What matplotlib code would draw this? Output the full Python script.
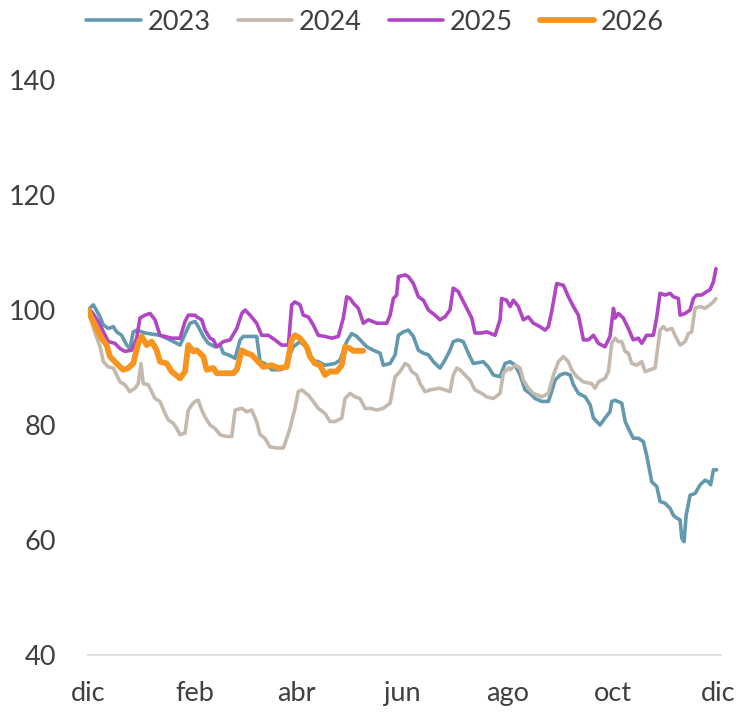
import matplotlib
matplotlib.use("Agg")
import matplotlib.pyplot as plt

plt.rcParams['font.family'] = ['Lato', 'DejaVu Sans']

# x = days since 1 December, y = index (start = 100)
s2023 = [(0, 100.0), (3.1, 100.9), (7.0, 98.8), (8.9, 97.4), (11.8, 96.8), (14.7, 97.1), (16.6, 96.2),
         (19.5, 95.6), (22.4, 93.9), (24.3, 93.3), (26.2, 96.2), (28.2, 96.5), (33.0, 96.0), (41.7, 95.6),
         (47.5, 94.8), (53.3, 93.9), (59.1, 97.7), (62.0, 98.0), (63.9, 97.1), (66.8, 95.4), (69.7, 94.2),
         (73.6, 93.6), (76.5, 93.9), (78.4, 92.5), (81.3, 92.2), (85.2, 91.6), (88.1, 94.8), (90.0, 95.4),
         (97.7, 95.4), (99.7, 91.0), (102.5, 90.7), (106.4, 89.6), (111.2, 89.6), (114.1, 89.9), (116.0, 91.6),
         (118.9, 93.6), (122.8, 94.5), (123.8, 94.2), (127.6, 93.3), (129.6, 91.3), (133.4, 91.0), (137.3, 90.4),
         (143.1, 90.7), (146.0, 91.3), (149.9, 94.5), (152.7, 95.9), (155.7, 95.4), (158.6, 94.5), (161.5, 93.6),
         (165.3, 93.0), (169.2, 92.5), (171.1, 90.4), (175.0, 90.7), (177.9, 92.2), (179.8, 95.6), (182.7, 96.2),
         (185.6, 96.5), (188.5, 95.4), (191.4, 93.0), (194.3, 92.5), (197.2, 92.2), (200.1, 91.0), (203.9, 89.9),
         (206.8, 91.3), (209.7, 93.0), (211.6, 94.5), (214.5, 94.8), (217.4, 94.5), (220.3, 92.5), (223.2, 90.7),
         (229.0, 91.0), (231.9, 90.1), (234.8, 88.7), (238.7, 88.4), (241.6, 90.7), (244.5, 91.0), (247.4, 90.4),
         (250.3, 88.7), (253.2, 86.1), (256.1, 85.5), (259.0, 84.6), (262.9, 84.1), (266.7, 84.1), (268.6, 85.8),
         (270.6, 87.8), (273.5, 88.7), (276.4, 89.0), (279.3, 88.7), (281.2, 87.0), (284.1, 85.5), (288.0, 84.9),
         (290.9, 83.5), (292.8, 81.2), (296.6, 80.0), (299.5, 81.2), (302.4, 82.3), (303.4, 84.1), (305.3, 84.3),
         (309.2, 83.8), (311.2, 80.6), (314.0, 78.8), (315.9, 77.7), (318.8, 77.7), (321.7, 77.1), (323.6, 74.8),
         (326.6, 70.1), (329.5, 69.3), (331.4, 66.7), (334.3, 66.4), (337.2, 65.5), (339.1, 64.3), (341.1, 63.8),
         (343.0, 63.5), (344.0, 60.3), (345.3, 59.7), (346.5, 64.3), (348.8, 67.8), (351.7, 68.1), (354.6, 69.6),
         (357.5, 70.4), (359.4, 70.1), (360.7, 69.6), (362.3, 72.2), (364.2, 72.2)]

s2024 = [(0, 100.0), (3.5, 96.5), (7.0, 93.6), (8.9, 91.0), (11.8, 90.1), (14.7, 89.9), (16.6, 88.7),
         (18.5, 87.5), (21.4, 87.0), (24.3, 85.8), (27.2, 86.4), (29.1, 87.2), (30.7, 90.7), (32.0, 87.2),
         (34.9, 87.0), (36.9, 85.8), (38.8, 84.6), (41.7, 84.1), (44.6, 82.0), (46.5, 80.9), (49.4, 80.3),
         (51.4, 79.4), (53.3, 78.3), (56.2, 78.6), (58.1, 82.6), (60.1, 83.5), (62.0, 84.1), (63.9, 84.3),
         (65.9, 82.6), (67.8, 81.4), (70.7, 80.0), (73.6, 79.4), (76.5, 78.3), (80.4, 78.0), (83.3, 78.0),
         (85.2, 82.6), (89.1, 82.9), (91.9, 82.3), (94.8, 82.6), (97.7, 80.6), (99.7, 78.3), (102.5, 77.7),
         (105.4, 76.2), (109.3, 76.0), (113.2, 76.0), (115.1, 77.7), (117.0, 79.4), (119.9, 82.9), (121.8, 85.8),
         (123.8, 86.1), (127.6, 85.2), (130.5, 84.1), (133.4, 82.9), (137.3, 82.0), (140.2, 80.6), (143.1, 80.6),
         (147.0, 81.2), (148.9, 84.6), (151.8, 85.5), (154.7, 84.9), (157.6, 84.6), (160.5, 82.9), (163.4, 82.9),
         (167.3, 82.6), (171.1, 82.9), (175.0, 83.8), (177.9, 88.4), (180.8, 89.3), (183.7, 90.7), (185.6, 90.4),
         (187.5, 89.3), (190.4, 88.7), (192.4, 87.2), (195.2, 85.8), (198.1, 86.1), (203.9, 86.4), (209.7, 85.8),
         (211.6, 88.7), (213.6, 89.9), (215.5, 89.6), (218.4, 88.7), (221.3, 87.8), (224.2, 86.1), (228.1, 85.5),
         (231.0, 84.9), (234.8, 84.6), (238.7, 85.5), (240.6, 89.0), (243.5, 89.9), (244.5, 89.6), (247.4, 90.4),
         (250.3, 89.9), (252.2, 87.8), (255.1, 86.4), (258.0, 85.5), (262.9, 84.9), (266.7, 85.5), (269.6, 88.7),
         (272.5, 91.0), (275.4, 91.9), (278.3, 91.0), (280.2, 89.6), (283.1, 88.4), (287.0, 87.5), (291.8, 87.2),
         (293.7, 86.4), (295.7, 87.5), (299.5, 88.1), (301.5, 89.3), (303.4, 94.2), (305.3, 95.1), (307.2, 94.5),
         (309.2, 94.5), (311.1, 92.8), (313.0, 92.5), (315.0, 90.7), (317.9, 90.4), (320.8, 91.0), (322.7, 89.3),
         (325.6, 89.6), (328.5, 89.9), (331.4, 96.5), (333.3, 97.1), (335.2, 96.5), (338.2, 96.8), (340.1, 95.6),
         (343.0, 93.9), (345.9, 94.5), (347.8, 95.9), (349.7, 96.2), (351.7, 100.3), (354.6, 100.6), (357.5, 100.3),
         (360.3, 100.9), (362.3, 101.4), (363.8, 102.0)]

s2025 = [(0, 100.0), (2.1, 99.7), (6.0, 98.0), (8.9, 96.2), (11.8, 94.5), (15.6, 94.2), (18.5, 93.3),
         (21.4, 92.8), (25.3, 93.0), (28.2, 95.1), (30.1, 98.6), (33.0, 99.1), (35.9, 99.4), (38.8, 98.3),
         (41.7, 95.6), (44.6, 95.4), (48.5, 95.1), (53.3, 95.1), (56.2, 98.0), (58.1, 99.1), (62.0, 99.1),
         (63.0, 98.8), (65.9, 98.3), (67.8, 96.5), (70.7, 95.1), (72.6, 94.8), (74.6, 93.6), (78.4, 94.5),
         (82.3, 94.8), (86.2, 96.8), (89.1, 99.4), (91.0, 100.0), (93.9, 99.1), (97.7, 97.7), (100.6, 95.6),
         (104.5, 95.6), (108.3, 94.8), (112.2, 93.9), (116.1, 93.9), (118.0, 100.9), (119.9, 101.4), (122.8, 100.9),
         (124.7, 99.1), (127.6, 98.8), (130.5, 97.4), (133.4, 95.6), (137.3, 95.4), (141.2, 95.1), (145.0, 95.4),
         (147.9, 98.6), (149.9, 102.3), (151.8, 102.0), (153.7, 101.2), (156.6, 100.3), (159.5, 97.7), (162.4, 98.3),
         (167.3, 97.7), (173.1, 97.7), (175.0, 99.1), (176.9, 102.0), (178.8, 102.6), (179.8, 105.8), (183.7, 106.1),
         (185.6, 105.8), (188.5, 104.6), (191.4, 102.3), (194.3, 101.7), (197.2, 100.0), (201.0, 99.1), (203.9, 98.3),
         (206.8, 98.8), (209.7, 100.0), (211.6, 103.8), (214.5, 103.2), (216.5, 102.0), (219.4, 100.3), (222.3, 98.6),
         (224.2, 96.0), (228.1, 96.0), (231.0, 96.2), (235.8, 95.6), (238.7, 98.3), (239.6, 102.0), (242.5, 101.7),
         (244.5, 100.6), (246.4, 101.7), (249.3, 100.6), (252.2, 98.3), (255.1, 98.8), (258.0, 97.7), (261.9, 97.1),
         (264.8, 96.5), (266.7, 97.1), (268.6, 99.7), (271.5, 104.6), (275.4, 104.3), (278.3, 102.3), (281.2, 100.6),
         (284.1, 99.1), (287.0, 94.8), (289.9, 94.8), (292.8, 95.6), (295.7, 94.2), (299.5, 93.6), (302.4, 95.4),
         (304.4, 100.3), (305.4, 98.6), (307.2, 99.4), (310.1, 98.6), (313.0, 96.8), (315.9, 94.8), (318.8, 95.1),
         (320.8, 94.2), (323.6, 95.6), (327.5, 95.6), (329.4, 98.6), (331.4, 102.9), (334.3, 102.6), (337.2, 102.9),
         (339.1, 102.3), (342.0, 102.0), (343.0, 99.1), (345.9, 99.4), (348.8, 100.0), (350.7, 102.0), (352.6, 102.6),
         (355.5, 102.6), (358.4, 103.2), (360.3, 103.5), (362.3, 104.9), (363.8, 107.2)]

s2026 = [(0, 100.0), (2.1, 98.6), (5.0, 96.8), (7.9, 95.1), (10.8, 93.9), (12.7, 91.9), (15.6, 91.0),
         (18.5, 90.1), (20.5, 89.6), (23.3, 89.9), (26.2, 90.7), (29.1, 94.2), (31.1, 95.4), (34.0, 93.9),
         (36.9, 94.5), (39.8, 93.0), (41.7, 91.0), (45.6, 90.7), (48.5, 89.3), (53.3, 88.1), (56.2, 89.3),
         (58.1, 93.9), (61.0, 92.8), (63.0, 93.0), (66.8, 91.9), (68.8, 89.6), (72.6, 89.9), (74.6, 89.0),
         (78.4, 89.0), (84.2, 89.0), (86.2, 89.6), (89.1, 93.0), (91.9, 92.5), (94.8, 92.2), (97.7, 91.3),
         (101.6, 90.1), (106.4, 90.4), (110.3, 89.9), (115.1, 90.1), (118.0, 94.8), (119.9, 95.6), (122.8, 95.1),
         (126.7, 93.6), (128.6, 91.9), (131.5, 90.7), (134.4, 90.4), (137.3, 88.7), (140.1, 89.3), (144.1, 89.3),
         (147.0, 90.4), (148.9, 93.6), (151.8, 93.3), (153.7, 92.9), (159.4, 92.9)]

series = [("2023", s2023), ("2024", s2024), ("2025", s2025), ("2026", s2026)]
colors = {"2023": "#6399ae", "2024": "#c5b8ad", "2025": "#b046c4", "2026": "#f7941d"}
widths = {"2023": 2.6, "2024": 2.6, "2025": 2.6, "2026": 4.2}

month_pos = [0, 62, 121, 182, 243, 304, 365]
month_lbl = ["dic", "feb", "abr", "jun", "ago", "oct", "dic"]
y_ticks = [40, 60, 80, 100, 120, 140]

W, H = 741, 715
fig = plt.figure(figsize=(W / 100, H / 100), dpi=100)
ax = fig.add_axes([88 / W, (H - 655) / H, (721 - 88) / W, (655 - 80) / H])

for name, pts in series:
    xs = [p[0] for p in pts]
    ys = [p[1] for p in pts]
    ax.plot(xs, ys, color=colors[name], lw=widths[name], label=name,
            solid_joinstyle='round', solid_capstyle='round')

ax.set_xlim(0, 366.7)
ax.set_ylim(40, 140)
ax.set_xticks(month_pos)
ax.set_xticklabels(month_lbl)
ax.set_yticks(y_ticks)

txt = "#404040"
ax.tick_params(axis='both', length=0, labelsize=19.5, colors=txt)
ax.tick_params(axis='x', pad=19)
ax.tick_params(axis='y', pad=23)
for s in ["top", "right", "left"]:
    ax.spines[s].set_visible(False)
ax.spines["bottom"].set_color("#d9d9d9")
ax.spines["bottom"].set_linewidth(1.2)

leg = fig.legend(loc='center', bbox_to_anchor=(0.506, 0.969), ncol=4, frameon=False,
                 handlelength=2.0, handletextpad=0.25, columnspacing=1.0, fontsize=19.5)
for t in leg.get_texts():
    t.set_color(txt)

fig.savefig("out.png", dpi=100)
